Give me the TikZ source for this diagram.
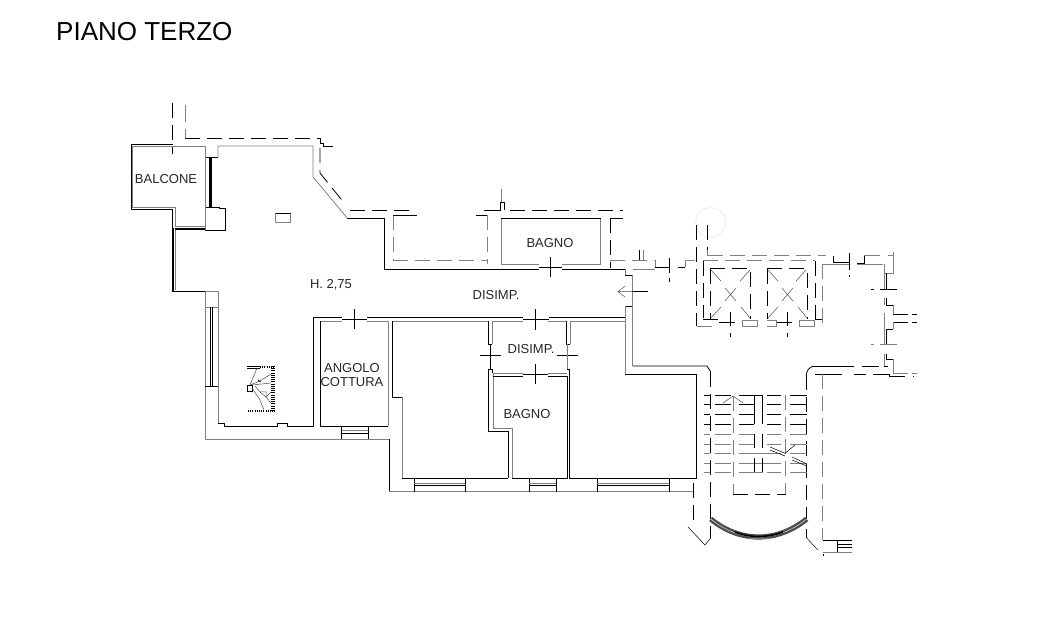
\documentclass[tikz,border=0pt]{standalone}
\usepackage{fontspec}
\setmainfont{Liberation Sans}
\tikzset{
  wall/.style={black, line width=0.8pt},
  thickwall/.style={black, line width=1.6pt},
  lite/.style={black!50, line width=0.8pt},
  wallcut/.style={black, line width=0.8pt, dash pattern=on 15pt off 7pt},
  litecut/.style={black!50, line width=0.8pt, dash pattern=on 15pt off 7pt},
  thin line/.style={black!70, line width=0.5pt},
  label/.style={font=\fontsize{13}{13.5}\selectfont, inner sep=0pt, black!85},
}
\newcommand{\treadrow}[2][wall]{\draw[#1] (704,#2) -- (710,#2) (715,#2) -- (731,#2) (739,#2) -- (754,#2) (767,#2) -- (781,#2) (790,#2) -- (806.7,#2);}
\begin{document}
\begin{tikzpicture}[x=1pt, y=-1pt]
\useasboundingbox (0,0) rectangle (1053,617);
\node[font=\fontsize{26}{28}\selectfont, inner sep=0pt, anchor=west] (title) at (56,32) {PIANO TERZO};
\node[label] (balcone) at (166,179) {BALCONE};
\node[label] (height)  at (331,285) {H. 2,75};
\node[label] (bagnoa)  at (550,243) {BAGNO};
\node[label] (disimpa) at (496,295) {DISIMP.};
\node[label] (disimpb) at (531,349) {DISIMP.};
\node[label] (bagnob)  at (527,414) {BAGNO};
\node[label, align=center] (cottura) at (352,375) {ANGOLO\\COTTURA};

% faint circle
\draw[black!8, line width=0.8pt] (710.5,222.5) circle (14.8);

% balcony and top left
\draw[wallcut] (172.7,103) -- (172.7,154);
\draw[lite] (185,105) -- (185,122) (185,129) -- (185,138);
\draw[wallcut] (185,138) -- (320,138);
\draw[wall] (320,138) -- (320,143) -- (323,143) -- (323,146) -- (333,146);
\draw[wallcut] (320,148) -- (320,173) -- (345,204);
\draw[wallcut] (350,210) -- (410,210);
\draw[wall] (172.7,144.3) -- (131,144.3) -- (131,209) -- (172.7,209) -- (172.7,228);
\draw[lite] (205,157) -- (205,146) -- (132.8,146) -- (132.8,207) -- (175,207) -- (175,226.7) -- (205,226.7);
\draw[thickwall] (172.7,228) -- (172.7,291.7) -- (204.7,291.7);
\draw[thickwall] (175,229) -- (205,229);
\draw[lite] (175,230) -- (175,290);
\draw[wall] (205,157.5) -- (218,157.5);
\draw[lite] (218,157.5) -- (218,146) -- (313,146) -- (313,177) -- (347,217.7);
\draw[lite] (205,157) -- (205,207);
\draw[wall] (209,157.5) -- (209,207);
\draw[thickwall] (211,157.5) -- (211,207);
\draw[wall] (205,207) -- (219,207) -- (219,208.5) -- (225,208.5) -- (225,230) -- (205,230);
\draw[lite] (205,207) -- (205,230);
\draw[lite] (275.7,213.7) rectangle (290.7,222.3);
\draw[wall] (275.7,213.7) -- (290.7,213.7);

% long corridor
\draw[wall] (347,218) -- (384,218) -- (384,269) -- (539,269);
\draw[lite] (501,264.5) -- (539,264.5);
\draw[wall] (562,269) -- (625,269);
\draw[lite] (562,264.5) -- (600.7,264.5) -- (600.7,218);
\draw[lite] (501,218) -- (501,264.5);
\draw[wall] (501,218) -- (600.7,218);
\draw[wall] (539,267) -- (562,267) (550.3,257) -- (550.3,277);
\draw[lite] (625,269) -- (625,275);
\draw[wall] (625,275) -- (632.5,275) -- (632.5,306) -- (625,306);
\draw[lite] (625,306) -- (625,321);
\draw[lite] (632.7,269) -- (655,269);
\draw[lite] (632.7,275) -- (632.7,366);
\draw[wall] (632.7,366) -- (707,366) -- (710.7,371.7);
\draw[lite] (625,321) -- (625,374);
\draw[wall] (625,374) -- (696.7,374) -- (696.7,478) -- (569.3,478) -- (569.3,369);
\draw[wall] (632,291.7) -- (648,291.7);
\draw[thin line] (618,291.7) -- (632,291.7) (625,286) -- (618,291.7) -- (625,297);
\draw[wall] (313.7,426) -- (313.7,317.5) -- (341.7,317.5);
\draw[wall] (367.3,317.5) -- (523,317.5);
\draw[wall] (549,317.5) -- (625,317.5);

% doors along the corridor
\draw[wall] (341.7,319.3) -- (367.3,319.3) (354.3,309) -- (354.3,329);
\draw[wall] (523,319.3) -- (549,319.3) (535.7,309) -- (535.7,330);

% left room
\draw[lite] (205,291) -- (218,291) -- (218,423.3);
\draw[lite] (205,291) -- (205,439.3) -- (389.3,439.3);
\draw[lite] (205,307) -- (218,307);
\draw[wall] (210,307) -- (210,386.7);
\draw[wall] (212,307) -- (212,386.7);
\draw[wall] (205,386.7) -- (218,386.7);
\draw[wall] (218,423.3) -- (224,423.3) -- (224,426) -- (277,426) -- (277,423.3) -- (287,423.3) -- (287,426) -- (313.7,426);

% stair drawing
\draw[wall, line width=3.5pt, dash pattern=on 0.8pt off 1.4pt] (273,366) -- (273,412);
\draw[wall, line width=2.5pt, dash pattern=on 0.8pt off 1.4pt] (260,367) -- (275,367);
\draw[wall] (247,366) -- (260,366) (247,368) -- (260,368);
\draw[wall, line width=2.5pt, dash pattern=on 0.8pt off 1.4pt] (248,411) -- (275,411);
\draw[wall] (247,385) rectangle (252,391);
\draw[thin line] (250,385) -- (257,368);
\draw[thin line] (250,385) -- (260,381) -- (271,374);
\draw[thin line] (252,385) -- (271,383);
\draw[thin line] (252,388) -- (260,400) -- (264,410);
\draw[thin line] (255,386) -- (260,392) -- (266,397) -- (271,392);
\draw[thin line] (260,392) -- (266,392) -- (266,397) -- (271,403);
\draw[wall] (258,380) -- (260.5,382);

% kitchen corner
\draw[lite] (320.3,321) -- (341.7,321);
\draw[lite] (367.3,321) -- (388,321) -- (388,426);
\draw[wall] (320.3,321) -- (320.3,426) -- (388,426);
\draw[wall] (341.7,426) -- (341.7,439.3) (368.3,426) -- (368.3,439.3);
\draw[lite] (341.7,430.7) -- (368.3,430.7);
\draw[wall] (341.7,433) -- (368.3,433);

% lower rooms
\draw[lite] (392.7,321) -- (488,321);
\draw[wall] (392.5,321) -- (392.5,397.3) -- (402.3,397.3);
\draw[lite] (402.3,397.3) -- (402.3,478.3);
\draw[wall] (402.3,478.3) -- (508,478.3);
\draw[wall] (389.3,439.3) -- (389.3,491.5);
\draw[lite] (389.3,491.7) -- (693,491.7);
\draw[wall] (414,478) -- (414,491.7) (465,478) -- (465,491.7);
\draw[lite] (414,483) -- (465,483);
\draw[wall] (414,485.5) -- (465,485.5);
\draw[wall] (529,478) -- (529,491.7) (556,478) -- (556,491.7);
\draw[lite] (529,483) -- (556,483);
\draw[wall] (529,485.5) -- (556,485.5);
\draw[wall] (597,478) -- (597,491.7) (669,478) -- (669,491.7);
\draw[lite] (597,483) -- (669,483);
\draw[wall] (597,485.5) -- (669,485.5);

% inner landing and second bathroom
\draw[wall] (488.3,321) -- (488.3,344) -- (492.3,344);
\draw[lite] (492.3,321) -- (492.3,344);
\draw[lite] (492.3,321) -- (522.7,321);
\draw[wall] (566,321) -- (566,344) -- (570,344);
\draw[lite] (570,321) -- (570,344);
\draw[lite] (548,321) -- (566,321);
\draw[lite] (570,321) -- (625,321);
\draw[wall] (480,355.7) -- (500.7,355.7) (490.3,344) -- (490.3,369);
\draw[wall] (557.3,355.7) -- (577.7,355.7);
\draw[lite] (567.7,344) -- (567.7,369);
\draw[wall] (488.3,369) -- (488.3,431) -- (508,431) -- (508,478.3);
\draw[lite] (493,373) -- (493,428) -- (512,428) -- (512,478);
\draw[wall] (512,478.3) -- (567,478.3) -- (567,376);
\draw[lite] (493,373) -- (523,373);
\draw[wall] (493,376) -- (523,376);
\draw[lite] (548,373) -- (567,373);
\draw[wall] (548,376) -- (567,376) (567,369) -- (569.3,369);
\draw[wall] (488.3,369) -- (492.3,369) -- (492.3,373);
\draw[wall] (523,374.5) -- (548,374.5) (535.7,364) -- (535.7,384);

% dashed rooms beyond the corridor
\draw[litecut] (393,215) -- (393,260);
\draw[wall] (393,215) -- (417,215) (476,215) -- (487.3,215);
\draw[litecut] (487.3,215) -- (487.3,264);
\draw[litecut] (393,260) -- (487.3,260);
\draw[wall] (484,210) -- (500,210) -- (500,202) -- (504,202) -- (504,210);
\draw[lite] (501.5,189) -- (501.5,202);
\draw[wallcut] (510,210) -- (623,210);
\draw[wall] (623,218) -- (610,218);
\draw[wallcut] (610,218) -- (610,268);
\draw[litecut] (610,260) -- (655,260);
\draw[wall] (639,250) -- (639,260);
\draw[lite] (643,250) -- (643,260);
\draw[lite] (655,260) -- (655,268);
\draw[wall] (655,267.5) -- (669,267.5) (669.3,258) -- (669.3,273) (669.3,278) -- (669.3,282);
\draw[wall] (678,267) -- (685,267);
\draw[lite] (685,267) -- (685,260.7) -- (695,260.7);

% lift shafts
\draw[wallcut] (696.7,225) -- (696.7,326);
\draw[wallcut] (707.7,225) -- (707.7,250);
\draw[lite] (707.7,250) -- (707.7,255.7);
\draw[litecut] (707.7,255.7) -- (826,255.7);
\draw[litecut] (703,260.7) -- (815,260.7);
\draw[wallcut] (703,261) -- (703,318);
\draw[wall] (703,319.3) -- (718,319.3);
\draw[lite] (696.7,326.3) -- (711.7,326.3);
\draw[wallcut] (710,268.7) -- (710,319);
\draw[wallcut] (710,268.7) -- (750.7,268.7) -- (750.7,319);
\draw[wallcut] (767,268.7) -- (807,268.7) -- (807,319);
\draw[wallcut] (767,268.7) -- (767,319);
\draw[thin line] (711,270) -- (721,281) (750,270) -- (740,281) (711,318) -- (721,307) (741,307) -- (750,318);
\draw[thin line] (768,270) -- (778,281) (806,270) -- (796,281) (768,318) -- (778,307) (798,307) -- (807,318);
\draw[thin line] (725,288) -- (736,301) (736,288) -- (725,301);
\draw[thin line] (782,288) -- (793,301) (793,288) -- (782,301);
\draw[wall] (719,322.3) -- (735,322.3) (730.7,312) -- (730.7,326) (730.7,333) -- (730.7,337);
\draw[wall] (776,322.3) -- (792,322.3) (787.7,312) -- (787.7,326) (787.7,333) -- (787.7,337);
\draw[lite] (742.7,320) rectangle (757.3,326);
\draw[lite] (799,320) rectangle (814,326);
\draw[lite] (767,320) -- (776,320) -- (776,326) -- (767,326);
\draw[wallcut] (815,260.7) -- (815,319);
\draw[litecut] (822.7,264) -- (822.7,326);
\draw[wall] (815,319) -- (822,319);

% right side of the landing
\draw[lite] (822.7,264) -- (833,264);
\draw[wall] (833,255.7) -- (833,262.7) -- (849,262.7) (849.3,253) -- (849.3,270) (849.3,275) -- (849.3,277);
\draw[lite] (833,264.3) -- (849,264.3);
\draw[wall] (857,263.3) -- (864,263.3) -- (864,255);
\draw[lite] (864,255) -- (880,255) (888,255) -- (893.3,255);
\draw[lite] (857,264.3) -- (883,264.3);
\draw[lite] (893.3,252) -- (893.3,273.3) -- (884.3,273.3) (884.3,264) -- (884.3,290);
\draw[wall] (886.3,273.3) -- (886.3,290) (880,289.3) -- (897,289.3) (871,289.3) -- (874,289.3);
\draw[lite] (884.3,298) -- (884.3,305);
\draw[wall] (886.3,298) -- (886.3,305) -- (893.3,305);
\draw[lite] (893.3,305) -- (893.3,314);
\draw[wall] (893.3,314) -- (908,314) (912,314) -- (917,314);
\draw[wall] (893.3,322) -- (908,322) (912,322) -- (917,322);
\draw[lite] (893.3,322) -- (893.3,329.3);
\draw[lite] (884.3,313) -- (884.3,344);
\draw[wall] (886.3,344) -- (886.3,329.3) -- (893.3,329.3);
\draw[lite] (871,344.3) -- (874,344.3) (880,344.3) -- (897,344.3);
\draw[lite] (884.3,354) -- (884.3,367);
\draw[wall] (886.3,354) -- (886.3,359.3) -- (893.3,359.3);
\draw[lite] (893.3,359.3) -- (893.3,373) -- (908,373) (912,373) -- (917,373);
\draw[wall] (806,375) .. controls (808,369) .. (813,366);
\draw[wall] (813,366.7) -- (854,366.7) (862,366.7) -- (879,366.7) (884,366.7) -- (888,366.7);
\draw[wall] (815,374.3) -- (842,374.3) (854,374.3) -- (866,374.3) (873,374.3) -- (889,374.3) -- (889,376) -- (905,376) (913,376) -- (914,376);

% staircase
\draw[wallcut] (710.7,372) -- (710.7,538);
\draw[wallcut] (806.7,375) -- (806.7,538);
\draw[litecut] (822.7,374) -- (822.7,540);
\treadrow{395}
\treadrow{404.3}
\treadrow{414.3}
\treadrow{424.3}
\treadrow[lite]{434.3}
\treadrow[lite]{444}
\treadrow[lite]{453.3}
\treadrow[lite]{463.3}
\treadrow[lite]{472.3}
\draw[wall] (754,395) -- (762.7,395);
\draw[lite] (754,453.3) -- (767,453.3) (754,463.3) -- (762.7,463.3) (762.7,463.3) -- (767,463.3) (754,472.3) -- (762.7,472.3);
\draw[wall] (754.3,395) -- (754.3,424) (754.3,434) -- (754.3,448) (754.3,458) -- (754.3,472);
\draw[wall] (762.7,395) -- (762.7,424) (762.7,434) -- (762.7,448) (762.7,458) -- (762.7,472);
\draw[litecut] (733.3,396) -- (733.3,494);
\draw[litecut] (785.7,395) -- (785.7,494);
\draw[wallcut] (733.3,494) -- (785.7,494);
\draw[thin line] (723,403) -- (733,396) -- (743,403);
\draw[wall, line width=0.5pt] (770,447) -- (785,453.3) -- (795,445);
\draw[wall, line width=0.5pt] (770,450) -- (785,456) (792,457) -- (806.7,464) (792,460) -- (806.7,466);

% curved front and lower wings
\draw[wallcut] (693.3,483) -- (693.3,527);
\draw[wall, line width=0.5pt] (688,527) -- (705,545) -- (710.7,538);
\draw[wall, line width=0.5pt] (806.7,538) -- (818,550);
\draw[thin line, line width=2.4pt, double=white, double distance=0.4pt] (710.7,519) .. controls (740,543) and (777,543) .. (806.7,519);
\draw[thickwall] (735,532) .. controls (750,538) and (767,538) .. (783,532);
\draw[lite] (748,538.3) -- (770,538.3);
\draw[wall] (823,540) -- (852,540) (837.7,540) -- (837.7,552);
\draw[wall] (838,544) -- (852,544) (838,547) -- (852,547);
\draw[lite] (823,552) -- (852,552);
\draw[wall] (823,554) -- (823,556);
\end{tikzpicture}
\end{document}
